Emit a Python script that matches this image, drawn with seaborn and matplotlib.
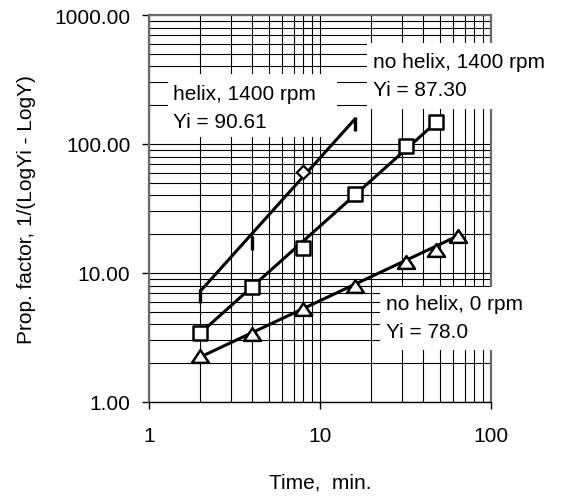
import numpy as np
import pandas as pd
import matplotlib
matplotlib.use("Agg")
import matplotlib.pyplot as plt
import seaborn as sns
from matplotlib.patches import Rectangle
from matplotlib.ticker import FixedLocator, FixedFormatter, NullFormatter
from matplotlib.path import Path

# ---------------- data ----------------
helix_t = [2, 4, 8, 16]
helix_y = [6.6, 17.0, 60.7, 143.0]
helix_mk = ["bar", "bar", "diamond", "bar"]

nohelix1400_t = [2, 4, 8, 16, 32, 48]
nohelix1400_y = [3.43, 7.8, 15.6, 41.0, 96.5, 148.0]

nohelix0_t = [2, 4, 8, 16, 32, 48, 64]
nohelix0_y = [2.27, 3.37, 5.26, 7.9, 12.2, 15.1, 19.4]

# trend-line end points
helix_fit_t = [2, 16]
helix_fit_y = [7.25, 156.0]
nohelix1400_fit_t = [2, 48]
nohelix1400_fit_y = [3.43, 148.0]
nohelix0_fit_t = [1.95, 64]
nohelix0_fit_y = [2.2, 19.4]

x_ticks = [1, 10, 100]
x_ticklabels = ["1", "10", "100"]
y_ticks = [1, 10, 100, 1000]
y_ticklabels = ["1.00", "10.00", "100.00", "1000.00"]

box_texts = [("helix, 1400 rpm", "Yi = 90.61"),
             ("no helix, 1400 rpm", "Yi = 87.30"),
             ("no helix, 0 rpm", "Yi = 78.0")]

# ---------------- style ----------------
sns.set_style("white")
plt.rcParams["font.family"] = ["Liberation Sans", "DejaVu Sans"]
plt.rcParams["font.size"] = 15
for k in ("text.color", "axes.labelcolor", "xtick.color", "ytick.color"):
    plt.rcParams[k] = "black"

W, H = 563, 502
fig = plt.figure(figsize=(W / 100, H / 100), dpi=100)
ax = fig.add_axes([149 / W, 1 - 403 / H, (491 - 149) / W, (403 - 16) / H])
ax.set_xscale("log")
ax.set_yscale("log")
ax.set_xlim(1, 100)
ax.set_ylim(1, 1000)

# grid
ax.xaxis.set_major_locator(FixedLocator(x_ticks))
ax.xaxis.set_major_formatter(FixedFormatter(x_ticklabels))
ax.yaxis.set_major_locator(FixedLocator(y_ticks))
ax.yaxis.set_major_formatter(FixedFormatter(y_ticklabels))
xminor = [m * d for d in (1, 10) for m in range(2, 10)]
yminor = [m * d for d in (1, 10, 100) for m in range(2, 10)]
ax.xaxis.set_minor_locator(FixedLocator(xminor))
ax.yaxis.set_minor_locator(FixedLocator(yminor))
ax.xaxis.set_minor_formatter(NullFormatter())
ax.yaxis.set_minor_formatter(NullFormatter())
ax.grid(True, which="both", color="black", linewidth=0.8)
ax.set_axisbelow(True)
ax.tick_params(which="major", direction="out", length=5, width=1, color="black",
               left=True, bottom=True, labelcolor="black")
ax.tick_params(axis="y", which="major", pad=8.4)
ax.tick_params(axis="x", which="major", pad=12.5)
ax.tick_params(which="minor", length=0)
for s in ("top", "right", "left"):
    ax.spines[s].set_color("#6a6a6a")
    ax.spines[s].set_linewidth(1.6)
ax.spines["bottom"].set_color("black")
ax.spines["bottom"].set_linewidth(1.0)

# trend lines
fits = pd.DataFrame({
    "t": helix_fit_t + nohelix1400_fit_t + nohelix0_fit_t,
    "y": helix_fit_y + nohelix1400_fit_y + nohelix0_fit_y,
    "s": ["h"] * 2 + ["n14"] * 2 + ["n0"] * 2,
})
sns.lineplot(data=fits, x="t", y="y", units="s", estimator=None, color="black",
             linewidth=2.2, ax=ax, legend=False, zorder=3)

# markers
tri = Path([(-1, -0.75), (1, -0.75), (0, 0.75), (-1, -0.75)],
           [Path.MOVETO, Path.LINETO, Path.LINETO, Path.CLOSEPOLY])
sns.scatterplot(x=nohelix0_t, y=nohelix0_y, marker=tri, s=150, facecolor="white",
                edgecolor="black", linewidth=1.8, ax=ax, zorder=4)
sns.scatterplot(x=nohelix1400_t, y=nohelix1400_y, marker="s", s=90, facecolor="white",
                edgecolor="black", linewidth=1.8, ax=ax, zorder=4)
hx_bar_t = [t for t, m in zip(helix_t, helix_mk) if m == "bar"]
hx_bar_y = [y for y, m in zip(helix_y, helix_mk) if m == "bar"]
hx_d_t = [t for t, m in zip(helix_t, helix_mk) if m == "diamond"]
hx_d_y = [y for y, m in zip(helix_y, helix_mk) if m == "diamond"]
sns.scatterplot(x=hx_bar_t, y=hx_bar_y, marker="|", s=100, color="black",
                linewidth=2.4, ax=ax, zorder=4)
sns.scatterplot(x=hx_d_t, y=hx_d_y, marker="D", s=46, facecolor="white",
                edgecolor="black", linewidth=1.6, ax=ax, zorder=4)

ax.set_xlim(1, 100)
ax.set_ylim(1, 1000)

# axis labels
ax.set_xlabel("Time,  min.")
ax.set_ylabel("Prop. factor, 1/(LogYi - LogY)")
ax.xaxis.set_label_coords(0.5, (403 - 474) / (403 - 16))
ax.yaxis.set_label_coords((36 - 149) / (491 - 149), 0.5)


# annotation boxes (pixel layout of the reference)
def fx(px):
    return px / W


def fy(py):
    return 1 - py / H


boxes = [
    # (x0, x1, y0, y1, text_x, base1, base2)
    (168, 337, 75, 138, 173, 100, 128),
    (367, 556, 44, 110, 373, 68, 96),
    (380, 535, 288, 351, 386, 310, 338),
]
for (x0, x1, y0, y1, tx, b1, b2), (l1, l2) in zip(boxes, box_texts):
    ax.add_patch(Rectangle((fx(x0), fy(y1)), fx(x1) - fx(x0), fy(y0) - fy(y1),
                           transform=fig.transFigure, facecolor="white",
                           edgecolor="none", clip_on=False, zorder=6))
    ax.text(fx(tx), fy(b1), l1, transform=fig.transFigure, ha="left",
            va="baseline", zorder=7, clip_on=False, color="black")
    ax.text(fx(tx), fy(b2), l2, transform=fig.transFigure, ha="left",
            va="baseline", zorder=7, clip_on=False, color="black")

fig.savefig("out.png", dpi=100)
